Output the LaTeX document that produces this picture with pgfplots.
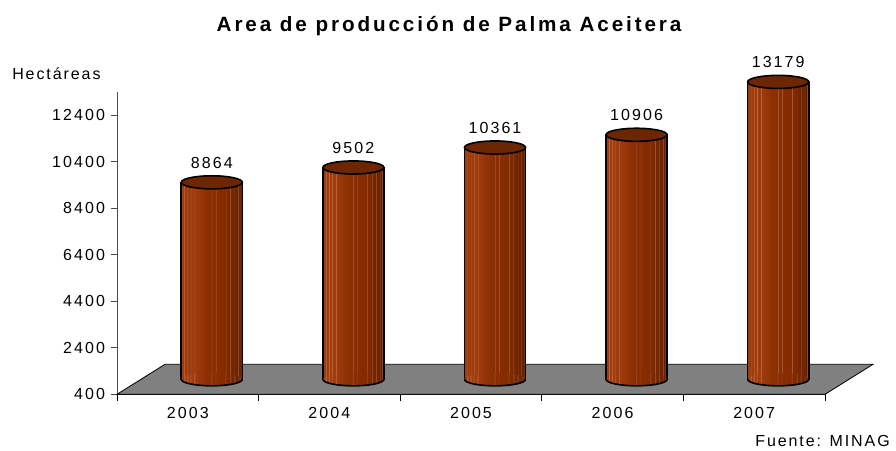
\documentclass[border=0pt]{standalone}
\usepackage{fontspec}
\setmainfont{Liberation Sans}[LetterSpace=12]
\newfontfamily\numfont{Liberation Sans}[LetterSpace=13]
\newfontfamily\titlefont{Liberation Sans}[LetterSpace=14,BoldFont={Liberation Sans Bold}]
\usepackage{pgfplots}
\pgfplotsset{compat=1.18}
\usepackage{pgfplotstable}

\definecolor{bA}{RGB}{158,60,14}
\definecolor{bB}{RGB}{142,48,4}
\definecolor{bBm}{RGB}{137,45,2}
\definecolor{bC}{RGB}{130,42,1}
\definecolor{bCm}{RGB}{122,40,0}
\definecolor{bD}{RGB}{110,36,0}
\definecolor{bE}{RGB}{95,32,0}
\definecolor{stA}{RGB}{196,112,72}
\definecolor{stB}{RGB}{176,94,58}
\definecolor{stC}{RGB}{152,82,52}
\definecolor{cylTop}{RGB}{108,38,2}
\definecolor{floorGray}{RGB}{128,128,128}

% left-to-right shading of a cylinder, with the thin light streaks
\pgfdeclarehorizontalshading{cyl}{100bp}{color(0bp)=(bA); color(25bp)=(bA);
  color(27bp)=(bA); color(27.4bp)=(stA); color(27.8bp)=(bA);
  color(29.6bp)=(bA); color(30bp)=(stA); color(30.4bp)=(bA);
  color(32.2bp)=(bA); color(32.6bp)=(stA); color(33bp)=(bA);
  color(35.4bp)=(bA); color(35.8bp)=(stA); color(36.2bp)=(bA);
  color(45bp)=(bB); color(49.4bp)=(bBm); color(49.8bp)=(stB); color(50.2bp)=(bBm);
  color(52.8bp)=(bBm); color(53.2bp)=(stB); color(53.6bp)=(bBm);
  color(60.9bp)=(bC); color(61.3bp)=(stB); color(61.7bp)=(bC);
  color(64.6bp)=(bCm); color(65bp)=(stB); color(65.4bp)=(bCm);
  color(68.1bp)=(bD); color(68.5bp)=(stC); color(68.9bp)=(bD);
  color(71.1bp)=(bD); color(71.5bp)=(stC); color(71.9bp)=(bD);
  color(73.1bp)=(bE); color(73.5bp)=(stC); color(73.9bp)=(bE);
  color(75bp)=(bE); color(100bp)=(bE)}

% ellipse ends of the cylinders (half axes 22.9pt x 4.9pt)
\pgfdeclareplotmark{cylbottom}{%
  \pgfpathellipse{\pgfpointorigin}{\pgfqpoint{22.9pt}{0pt}}{\pgfqpoint{0pt}{4.9pt}}%
  \pgfshadepath{cyl}{0}%
  \pgfusepath{discard}%
  \pgfpathmoveto{\pgfqpoint{-22.9pt}{0pt}}%
  \pgfpatharc{180}{360}{22.9pt and 4.9pt}%
  \pgfusepath{stroke}%
}
\pgfdeclareplotmark{cyltop}{%
  \pgfpathellipse{\pgfpointorigin}{\pgfqpoint{22.9pt}{0pt}}{\pgfqpoint{0pt}{4.9pt}}%
  \pgfusepath{fill,stroke}%
}

% area (ha) per year, categories at 0.5 ... 4.5
\pgfplotstableread{
x   v
0.5 8864
1.5 9502
2.5 10361
3.5 10906
4.5 13179
}\areadata

\begin{document}
\begin{tikzpicture}
\begin{axis}[
  scale only axis, width=531pt, height=226.9pt,
  xmin=0, xmax=5, ymin=400, ymax=13400,
  % bars grow from the middle of the floor (value 1045 in the 3-D view)
  y coord trafo/.code={\pgfmathparse{#1-1045}},
  y coord inv trafo/.code={\pgfmathparse{#1+1045}},
  clip=false,
  axis lines*=left,
  x axis line style={black, line width=1pt},
  y axis line style={black!70, line width=0.6pt},
  xtick={0.5,1.5,...,4.5},
  xticklabels={2003,2004,2005,2006,2007},
  xticklabel style={yshift=-2pt},
  minor xtick={0,1,...,5},
  major x tick style={draw=none},
  minor x tick style={black, line width=0.6pt},
  minor tick length=5.25pt,
  ytick={400,2400,...,12400},
  yticklabels={400,2400,4400,6400,8400,10400,12400},
  scaled y ticks=false,
  y tick style={black!70, line width=0.6pt},
  major tick length=4.5pt,
  tick align=outside,
  /pgf/number format/1000 sep={},
  /pgf/number format/assume math mode=true,
  ticklabel style={font=\numfont\fontsize{12}{14}\selectfont},
  yticklabel style={xshift=-1pt},
]
% floor
\addplot[fill=floorGray, draw=black, line width=0.6pt]
  coordinates {(0,400) (5,400) (5.339,1689) (0.339,1689)} -- cycle;
% cylinder bodies, one plot each so that each gets its own shading
\pgfplotsinvokeforeach{0,...,4}{%
  \addplot[ybar, bar width=45.8pt, bar shift=18pt, draw=black, line width=1.2pt,
    shading=cyl, x filter/.code={\ifnum\coordindex=#1\relax\else\def\pgfmathresult{}\fi}]
    table[x=x, y expr=\thisrow{v}+645] {\areadata};
}
% bottom and top ellipses, value labels
\addplot[only marks, mark=cylbottom, mark options={draw=black, line width=1.2pt}]
  table[x expr=\thisrow{x}+0.1695, y expr=1045] {\areadata};
\addplot[only marks, mark=cyltop, mark options={fill=cylTop, draw=black, line width=1.2pt},
  point meta=explicit symbolic, nodes near coords,
  every node near coord/.style={anchor=base, yshift=10.5pt,
    font=\numfont\fontsize{12}{14}\selectfont, text=black}]
  table[x expr=\thisrow{x}+0.1695, y expr=\thisrow{v}+645, meta=v] {\areadata};

\node[anchor=base, font=\titlefont\bfseries\fontsize{15.5}{18}\selectfont]
  at (axis description cs:0.469,1.198) {Area de producción de Palma Aceitera};
\node[anchor=base west, font=\fontsize{12}{14}\selectfont, inner sep=0pt]
  at (axis description cs:-0.1483,1.042) {Hectáreas};
\node[anchor=base east, font=\fontsize{12}{14}\selectfont, inner sep=0pt]
  at (axis description cs:1.0918,-0.173) {Fuente: MINAG};
\coordinate (bl) at (rel axis cs:0,0);
\end{axis}
\pgfresetboundingbox
\path[shift={(bl)}] (-87.75pt,-41.78pt) rectangle (584.25pt,295.73pt);
\end{tikzpicture}
\end{document}
